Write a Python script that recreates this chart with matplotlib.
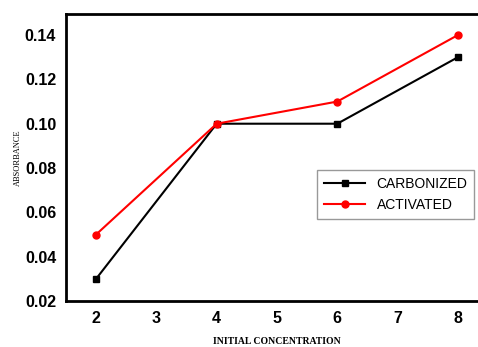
import matplotlib
matplotlib.use("Agg")
import matplotlib.pyplot as plt

conc = [2, 4, 6, 8]
carbonized = [0.03, 0.10, 0.10, 0.13]
activated = [0.05, 0.10, 0.11, 0.14]
xticks = [2, 3, 4, 5, 6, 7, 8]
yticks = [0.02, 0.04, 0.06, 0.08, 0.10, 0.12, 0.14]

fig = plt.figure(figsize=(4.78, 3.47), dpi=100)
ax = fig.add_axes([0.138, 0.1326, 0.883, 0.827])

ax.plot(conc, carbonized, color="black", marker="s", markersize=5, lw=1.5, label="CARBONIZED")
ax.plot(conc, activated, color="red", marker="o", markersize=5, lw=1.5, label="ACTIVATED")

ax.set_xlim(1.5, 8.5)
ax.set_ylim(0.02, 0.1495)
ax.set_xticks(xticks)
ax.set_yticks(yticks)
ax.set_yticklabels(["%.2f" % v for v in yticks])
for lab in ax.get_xticklabels() + ax.get_yticklabels():
  lab.set_fontfamily("Liberation Sans")
  lab.set_fontweight("bold")
  lab.set_fontsize(11.5)
ax.tick_params(length=0, pad=7)
for sp in ax.spines.values():
  sp.set_linewidth(2)

ax.set_xlabel("INITIAL CONCENTRATION", fontfamily="Liberation Serif", fontsize=7, fontweight="bold", labelpad=8)
ax.set_ylabel("ABSORBANCE", fontfamily="Liberation Serif", fontsize=6, labelpad=2)

leg = ax.legend(loc="upper left", bbox_to_anchor=(0.578, 0.48), prop={"family": "Liberation Sans", "size": 10},
                fancybox=False, edgecolor="gray", handlelength=3, borderpad=0.5, labelspacing=0.5)
leg.get_frame().set_linewidth(1)

fig.savefig("out.png", dpi=100)
